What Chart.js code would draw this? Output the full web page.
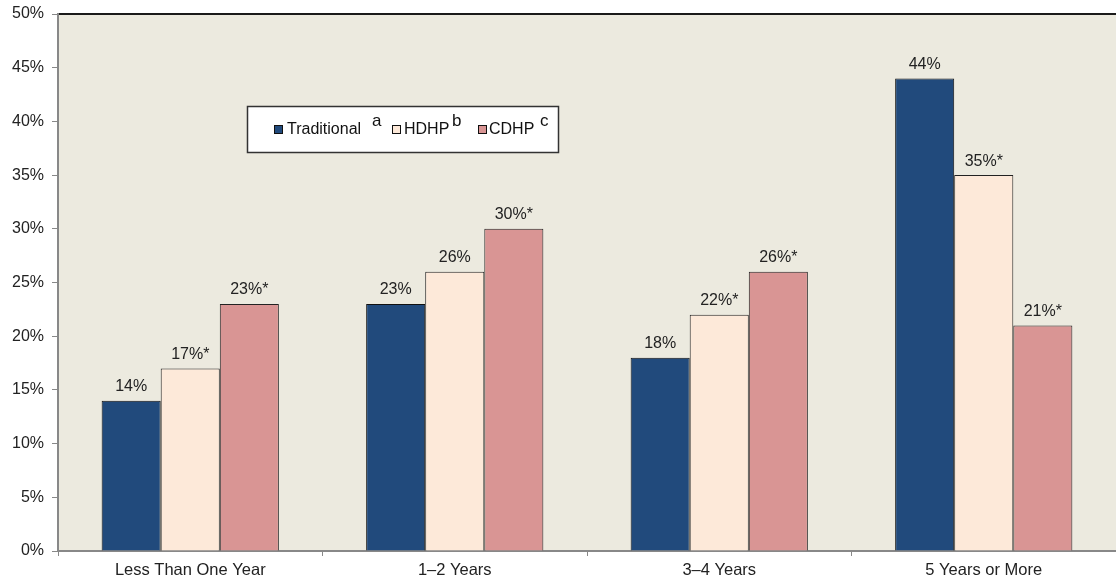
<!DOCTYPE html>
<html>
<head>
<meta charset="utf-8">
<script src="https://cdn.jsdelivr.net/npm/chart.js@4.4.1/dist/chart.umd.min.js"></script>
<style>
  html, body { margin: 0; padding: 0; background: #fff; }
  #wrap { position: relative; width: 1116px; height: 583px; }
</style>
</head>
<body>
<div id="wrap"><canvas id="grafico"></canvas></div>
<script>
var categorias = ['Less Than One Year', '1–2 Years', '3–4 Years', '5 Years or More'];
var traditional = [14, 23, 18, 44];
var hdhp = [17, 26, 22, 35];
var cdhp = [23, 30, 26, 21];
var rotulosTraditional = ['14%', '23%', '18%', '44%'];
var rotulosHdhp = ['17%*', '26%', '22%*', '35%*'];
var rotulosCdhp = ['23%*', '30%*', '26%*', '21%*'];
var nomesSeries = ['Traditional', 'HDHP', 'CDHP'];
var notasSeries = ['a', 'b', 'c'];

var fonte = '"Liberation Sans", Arial, sans-serif';

// fundo da area do grafico e linha de cima
const fundo = {
    id: 'fundo',
    beforeDraw(chart) {
        const { ctx, chartArea: a } = chart;
        ctx.save();
        ctx.fillStyle = '#ECEADF';
        ctx.fillRect(a.left, a.top, a.right - a.left, a.bottom - a.top);
        ctx.strokeStyle = '#1a1a1a';
        ctx.lineWidth = 2;
        ctx.beginPath();
        ctx.moveTo(a.left, a.top);
        ctx.lineTo(a.right, a.top);
        ctx.stroke();
        ctx.restore();
    }
};

// rotulos em cima das barras
const rotulos = {
    id: 'rotulos',
    afterDatasetsDraw(chart) {
        const ctx = chart.ctx;
        ctx.save();
        ctx.font = '16px ' + fonte;
        ctx.fillStyle = '#222';
        ctx.textAlign = 'center';
        ctx.textBaseline = 'bottom';
        chart.data.datasets.forEach((ds, i) => {
            chart.getDatasetMeta(i).data.forEach((bar, j) => {
                ctx.fillText(ds.rotulos[j], bar.x, bar.y - 6);
            });
        });
        ctx.restore();
    }
};

// legenda em caixa branca com as notas sobrescritas
const legenda = {
    id: 'legenda',
    afterDraw(chart) {
        const ctx = chart.ctx;
        ctx.save();
        ctx.fillStyle = '#fff';
        ctx.fillRect(247, 106, 311, 46);
        ctx.strokeStyle = '#333';
        ctx.lineWidth = 1.5;
        ctx.strokeRect(247.5, 106.5, 311, 46);
        const posicoes = [
            { box: 274, txt: 287, sup: 372 },
            { box: 392, txt: 404, sup: 452 },
            { box: 478, txt: 489, sup: 540 }
        ];
        chart.data.datasets.forEach((ds, i) => {
            const p = posicoes[i];
            ctx.fillStyle = ds.backgroundColor;
            ctx.fillRect(p.box, 125, 9, 9);
            ctx.strokeStyle = '#111';
            ctx.lineWidth = 1;
            ctx.strokeRect(p.box + 0.5, 125.5, 8, 8);
            ctx.fillStyle = '#111';
            ctx.font = '16px ' + fonte;
            ctx.textAlign = 'left';
            ctx.textBaseline = 'middle';
            ctx.fillText(nomesSeries[i], p.txt, 130);
            ctx.font = '17px ' + fonte;
            ctx.fillText(notasSeries[i], p.sup, 121);
        });
        ctx.restore();
    }
};

const config = {
    type: 'bar',
    data: {
        labels: categorias,
        datasets: [{
            label: nomesSeries[0],
            data: traditional,
            rotulos: rotulosTraditional,
            backgroundColor: '#214A7C',
            borderColor: '#111',
            borderWidth: 1
        }, {
            label: nomesSeries[1],
            data: hdhp,
            rotulos: rotulosHdhp,
            backgroundColor: '#FDE9D9',
            borderColor: '#222',
            borderWidth: 1
        }, {
            label: nomesSeries[2],
            data: cdhp,
            rotulos: rotulosCdhp,
            backgroundColor: '#D99594',
            borderColor: '#222',
            borderWidth: 1
        }]
    },
    options: {
        responsive: false,
        animation: false,
        categoryPercentage: 0.67,
        barPercentage: 1,
        layout: {
            padding: { top: 14, right: 0, left: 0, bottom: 0 }
        },
        plugins: {
            legend: { display: false },
            tooltip: { enabled: false }
        },
        scales: {
            x: {
                grid: {
                    offset: true,
                    drawOnChartArea: false,
                    color: '#888',
                    tickLength: 5
                },
                border: { color: '#888', width: 2 },
                ticks: {
                    color: '#222',
                    font: { family: fonte, size: 16.5 },
                    padding: 5
                },
                afterFit: (s) => { s.height = 32; s.paddingLeft = 0; s.paddingRight = 0; }
            },
            y: {
                min: 0,
                max: 50,
                grid: {
                    drawOnChartArea: false,
                    color: '#888',
                    tickLength: 6
                },
                border: { color: '#888', width: 2 },
                ticks: {
                    stepSize: 5,
                    color: '#222',
                    font: { family: fonte, size: 16 },
                    padding: 8,
                    callback: (value) => value + '%'
                },
                afterFit: (s) => { s.width = 58; s.paddingTop = 0; s.paddingBottom = 0; }
            }
        }
    },
    plugins: [fundo, rotulos, legenda]
};

const canvas = document.getElementById('grafico');
canvas.width = 1116;
canvas.height = 583;
new Chart(canvas, config);
</script>
</body>
</html>
